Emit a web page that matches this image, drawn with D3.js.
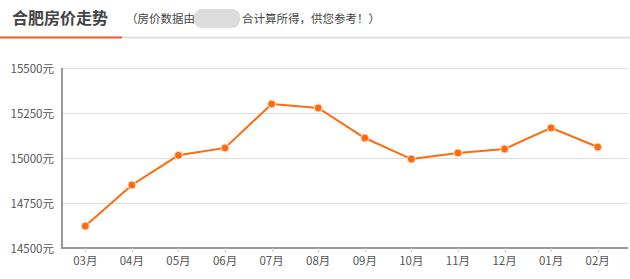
<!DOCTYPE html>
<html>
<head>
<meta charset="utf-8">
<script src="https://cdn.jsdelivr.net/npm/d3@7"></script>
<style>
  body { margin: 0; background: #fff; }
  text { font-family: "Noto Sans CJK SC", "Noto Sans", sans-serif; }
</style>
</head>
<body>
<div id="chart"></div>
<script>
var months = ["03月", "04月", "05月", "06月", "07月", "08月", "09月", "10月", "11月", "12月", "01月", "02月"];
var prices = [14622, 14850, 15015, 15056, 15300, 15278, 15111, 14994, 15028, 15050, 15167, 15061];
var yTicks = [14500, 14750, 15000, 15250, 15500];

var width = 630, height = 279;
var plotL = 62, plotR = 621, plotT = 68, plotB = 248;

var svg = d3.select("#chart").append("svg")
    .attr("width", width)
    .attr("height", height);

// header
svg.append("text")
    .attr("x", 12).attr("y", 24)
    .attr("font-size", 16).attr("font-weight", "bold")
    .style("fill", "#444")
    .text("合肥房价走势");
svg.append("text")
    .attr("x", 126).attr("y", 23)
    .attr("font-size", 11.5)
    .style("fill", "#444")
    .text("（房价数据由");
svg.append("rect") // blurred part
    .attr("x", 194).attr("y", 9).attr("width", 46).attr("height", 19)
    .attr("rx", 8)
    .attr("fill", "#dcdcdc");
svg.append("text")
    .attr("x", 242).attr("y", 23)
    .attr("font-size", 11.5)
    .style("fill", "#444")
    .text("合计算所得，供您参考！）");
svg.append("line")
    .attr("x1", 0).attr("x2", width).attr("y1", 37.5).attr("y2", 37.5)
    .attr("stroke", "#ddd").attr("stroke-width", 2);
svg.append("line")
    .attr("x1", 0).attr("x2", 122).attr("y1", 37.5).attr("y2", 37.5)
    .attr("stroke", "#f0632a").attr("stroke-width", 2);

var x = d3.scaleBand().domain(months).range([plotL, plotR]);
var y = d3.scaleLinear().domain([14500, 15500]).range([plotB, plotT]);

// grid
svg.append("g").selectAll("line")
    .data(yTicks.slice(1))
    .enter().append("line")
    .attr("x1", plotL).attr("x2", 628)
    .attr("y1", function (d) { return y(d) + 0.5; })
    .attr("y2", function (d) { return y(d) + 0.5; })
    .attr("stroke", "#ddd");

// y labels
svg.append("g").selectAll("text")
    .data(yTicks)
    .enter().append("text")
    .attr("x", 54)
    .attr("y", function (d) { return y(d) + 5; })
    .attr("text-anchor", "end")
    .attr("font-size", 11.5)
    .style("fill", "#555")
    .text(function (d) { return d + "元"; });

// axes
svg.append("line")
    .attr("x1", plotL).attr("x2", plotL).attr("y1", plotT).attr("y2", plotB)
    .attr("stroke", "#999").attr("stroke-width", 2);
svg.append("line")
    .attr("x1", plotL - 1).attr("x2", 628).attr("y1", plotB).attr("y2", plotB)
    .attr("stroke", "#999").attr("stroke-width", 2);

var cx = function (d) { return x(d) + x.bandwidth() / 2; };

svg.append("g").selectAll("line")
    .data(months)
    .enter().append("line")
    .attr("x1", function (d) { return Math.round(cx(d)) + 0.5; })
    .attr("x2", function (d) { return Math.round(cx(d)) + 0.5; })
    .attr("y1", plotB).attr("y2", plotB + 4)
    .attr("stroke", "#ccc");

svg.append("g").selectAll("text")
    .data(months)
    .enter().append("text")
    .attr("x", cx)
    .attr("y", 265)
    .attr("text-anchor", "middle")
    .attr("font-size", 11.5)
    .style("fill", "#555")
    .text(function (d) { return d; });

// line
var line = d3.line()
    .x(function (d, i) { return cx(months[i]); })
    .y(function (d) { return y(d); });

svg.append("path")
    .datum(prices)
    .attr("d", line)
    .attr("fill", "none")
    .attr("stroke", "#ff6a0d")
    .attr("stroke-width", 2);

svg.append("g").selectAll("circle")
    .data(prices)
    .enter().append("circle")
    .attr("cx", function (d, i) { return cx(months[i]); })
    .attr("cy", function (d) { return y(d); })
    .attr("r", 4)
    .attr("fill", "#ff6a0d")
    .attr("stroke", "#ffe0cc")
    .attr("stroke-width", 1);
</script>
</body>
</html>
